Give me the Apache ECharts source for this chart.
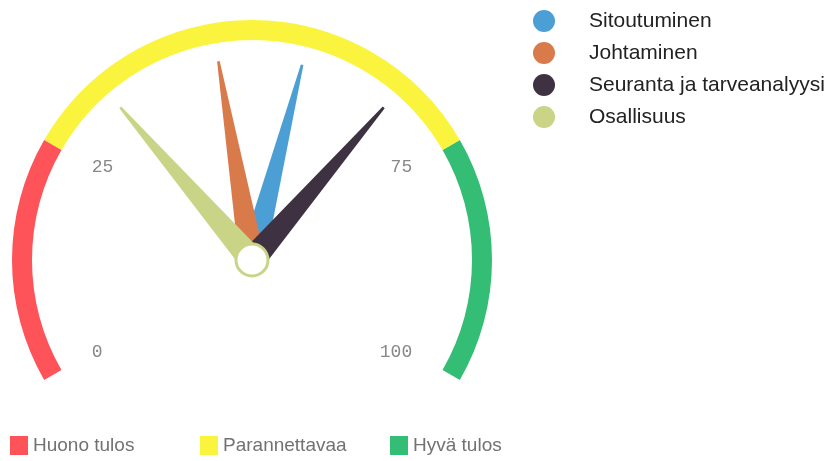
<!DOCTYPE html>
<html>
<head>
<meta charset="utf-8">
<script src="https://cdn.jsdelivr.net/npm/echarts@6/dist/echarts.min.js"></script>
<style>
  html, body { margin: 0; padding: 0; background: #fff; }
  #chart { width: 828px; height: 461px; }
</style>
</head>
<body>
<div id="chart"></div>
<script>
// needle series
const seriesNames = ['Sitoutuminen', 'Johtaminen', 'Seuranta ja tarveanalyysi', 'Osallisuus'];
const seriesValues = [56, 46, 67, 33];
const seriesColors = ['#4b9fd5', '#d97a4b', '#3e3242', '#c9d487'];

// colour bands of the dial
const bandNames = ['Huono tulos', 'Parannettavaa', 'Hyvä tulos'];
const bandEnds = [0.25, 0.75, 1];
const bandColors = ['#fe5358', '#fbf43f', '#33bd75'];

const tickLabels = [0, 25, 75, 100];

const center = [252, 260];
const radius = 240;

// tapered needle with a blunt tip, base sits on the centre
const needleIcon = 'path://M0,100 L4.5,0 L5.5,0 L10,100 Z';

const mychart = echarts.init(document.getElementById('chart'));

const needleSeries = seriesNames.map((name, i) => {
    const last = i === seriesNames.length - 1;
    return {
        type: 'gauge',
        name: name,
        center: center,
        radius: radius,
        startAngle: 210,
        endAngle: -30,
        min: 0,
        max: 100,
        splitNumber: 4,
        itemStyle: { color: seriesColors[i] },
        axisLine: i === 0 ? {
            lineStyle: {
                width: 20,
                color: bandEnds.map((e, k) => [e, bandColors[k]])
            }
        } : { show: false },
        axisTick: { show: false },
        splitLine: { show: false },
        axisLabel: i === 0 ? {
            distance: 35,
            color: '#888',
            fontSize: 18,
            fontFamily: 'Liberation Mono',
            formatter: v => tickLabels.indexOf(v) >= 0 ? String(v) : ''
        } : { show: false },
        pointer: {
            icon: needleIcon,
            length: '84%',
            width: 26,
            itemStyle: { color: seriesColors[i] }
        },
        anchor: last ? {
            show: true,
            showAbove: true,
            size: 32,
            itemStyle: { color: '#fff', borderColor: seriesColors[i], borderWidth: 3 }
        } : { show: false },
        title: { show: false },
        detail: { show: false },
        data: [{ value: seriesValues[i], name: name }]
    };
});

// empty series only for the bottom legend
const bandSeries = bandNames.map((name, k) => ({
    type: 'gauge',
    name: name,
    center: center,
    radius: radius,
    itemStyle: { color: bandColors[k] },
    axisLine: { show: false },
    axisTick: { show: false },
    splitLine: { show: false },
    axisLabel: { show: false },
    pointer: { show: false },
    title: { show: false },
    detail: { show: false },
    data: []
}));

const bottomLegends = bandNames.map((name, k) => ({
    data: [name],
    left: [5, 195, 385][k],
    top: 431,
    icon: 'rect',
    itemWidth: 18,
    itemHeight: 19,
    itemGap: 0,
    textStyle: { color: '#727272', fontSize: 19, fontFamily: 'Liberation Sans' }
}));

const option = {
    animation: false,
    legend: [{
        data: seriesNames,
        orient: 'vertical',
        left: 528,
        top: 5,
        icon: 'circle',
        itemWidth: 80,
        itemHeight: 22,
        itemGap: 10,
        textStyle: { color: '#222', fontSize: 21, fontFamily: 'Liberation Sans' }
    }].concat(bottomLegends),
    series: needleSeries.concat(bandSeries)
};

mychart.setOption(option);
</script>
</body>
</html>
